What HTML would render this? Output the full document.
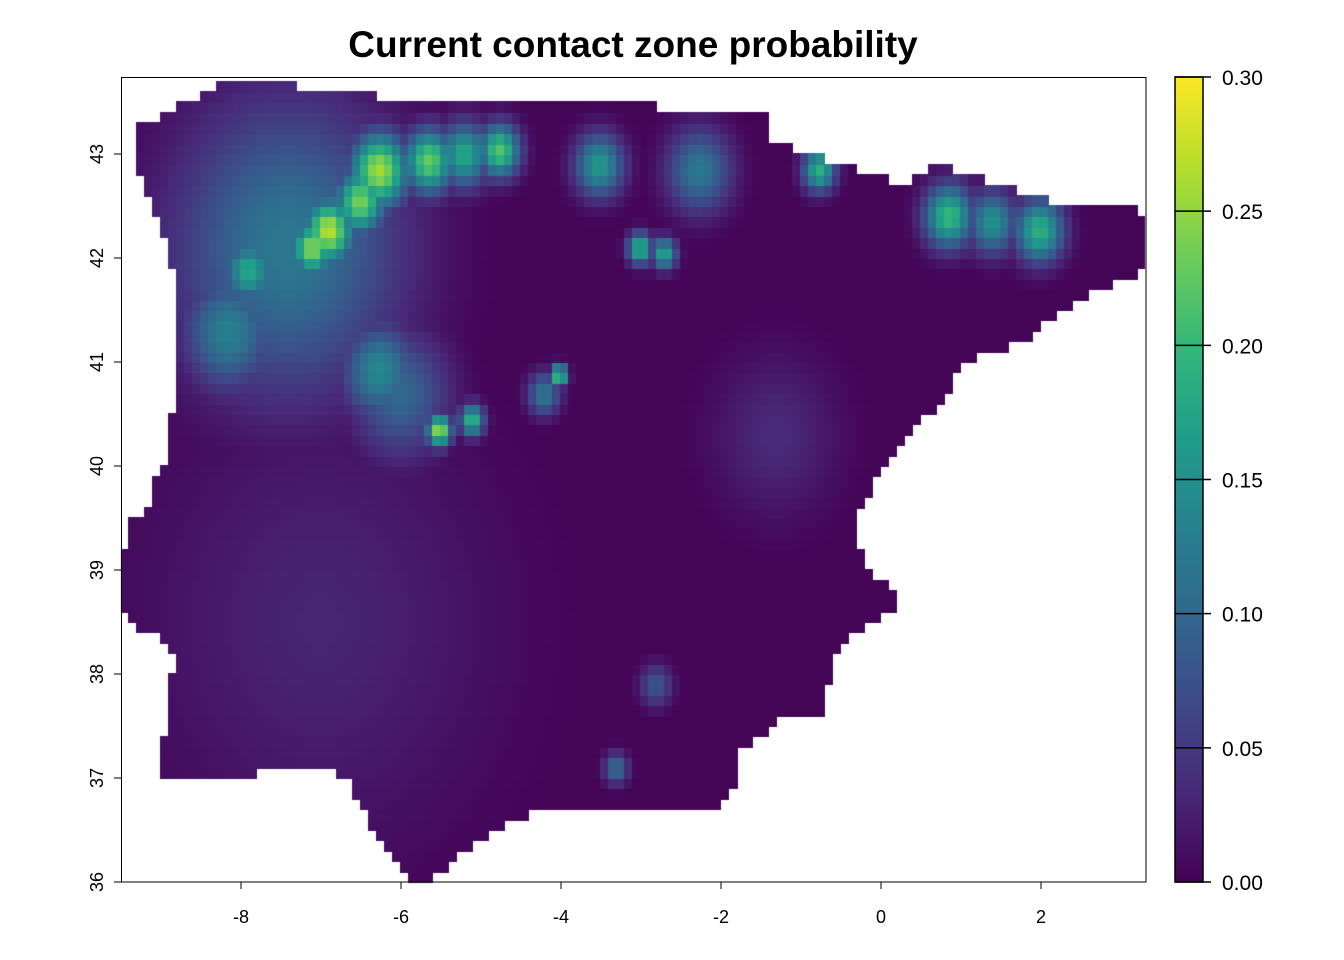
<!DOCTYPE html>
<html><head><meta charset="utf-8"><style>
html,body{margin:0;padding:0;background:#fff;}
#wrap{position:relative;width:1344px;height:960px;font-family:"Liberation Sans",sans-serif;}
canvas{position:absolute;left:0;top:0;}
svg{position:absolute;left:0;top:0;}
</style></head><body>
<div id="wrap">
<canvas id="cv" width="1344" height="960"></canvas>
<svg id="sv" width="1344" height="960"></svg>
</div>
<script>
// ---- data ----
const outlineLon=[-9.26,-9.01,-8.33,-8.08,-7.33,-7.26,-6.26,-5.26,-4.14,-3.51,-2.51,-1.39,-1.39,-1.01,-0.26,0.24,0.74,1.49,1.99,2.74,3.24,3.31,3.24,2.74,2.24,1.86,1.36,0.99,0.80,0.49,0.24,-0.01,-0.26,-0.26,-0.07,0.24,0.24,-0.26,-0.51,-0.64,-0.70,-1.26,-1.76,-1.83,-2.14,-3.01,-4.01,-4.45,-4.89,-5.26,-5.64,-5.83,-6.08,-6.33,-6.51,-6.70,-6.95,-7.51,-8.01,-8.70,-8.99,-8.95,-8.89,-8.83,-8.89,-9.20,-9.49,-9.49,-9.41,-9.14,-9.08,-8.95,-8.89,-8.76,-8.76,-8.86,-9.01,-9.14,-9.26,-9.26];
const outlineLat=[43.25,43.35,43.62,43.74,43.74,43.57,43.55,43.52,43.49,43.52,43.42,43.35,43.13,43.04,42.85,42.70,42.89,42.70,42.56,42.49,42.46,42.17,41.84,41.69,41.50,41.21,41.10,40.97,40.63,40.44,40.15,39.91,39.58,39.24,38.90,38.81,38.66,38.42,38.28,37.94,37.65,37.56,37.27,36.88,36.69,36.67,36.69,36.64,36.45,36.26,36.02,36.00,36.21,36.45,36.79,37.03,37.13,37.13,36.98,37.00,37.03,37.37,37.75,38.13,38.33,38.38,38.66,38.95,39.43,39.58,39.82,40.01,40.44,40.63,41.31,41.98,42.37,42.56,42.85,43.13];
const hotLon=[-7.4,-6.26,-6.89,-7.1,-6.5,-7.89,-5.64,-4.76,-5.2,-3.51,-2.26,-3.0,-2.7,-0.76,0.86,1.99,1.4,-5.51,-5.1,-4.01,-4.2,-6.26,-8.14,-2.8,-3.3,-6.0,-7.0,-1.3];
const hotLat=[42.1,42.85,42.27,42.1,42.55,41.88,42.94,43.04,43.0,42.9,42.85,42.1,42.05,42.85,42.41,42.27,42.35,40.35,40.45,40.88,40.7,40.92,41.3,37.9,37.1,40.7,38.5,40.3];
const hotVal=[0.12,0.26,0.27,0.25,0.24,0.18,0.23,0.22,0.18,0.16,0.12,0.2,0.18,0.19,0.2,0.19,0.15,0.26,0.2,0.24,0.12,0.14,0.13,0.08,0.11,0.1,0.03,0.035];
const hotRad=[1.4,0.35,0.3,0.25,0.3,0.3,0.3,0.25,0.3,0.3,0.4,0.15,0.15,0.2,0.3,0.3,0.3,0.15,0.15,0.1,0.2,0.45,0.55,0.2,0.15,0.6,2.2,0.8];
const xTicks=[-8,-6,-4,-2,0,2];
const yTicks=[36,37,38,39,40,41,42,43];
const cbTicks=[0,0.05,0.1,0.15,0.2,0.25,0.3];
// ---- scales ----
const X=l=>121+(l+9.5)*80, Y=t=>882-(t-36)*104;
const CB=v=>882-v/0.3*805;
const vir=[[68,1,84],[72,40,120],[62,74,137],[49,104,142],[38,130,142],[31,158,137],[53,183,121],[109,205,89],[180,222,44],[253,231,37]];
function col(v){let t=Math.max(0,Math.min(1,v/0.3))*9,i=Math.min(8,Math.floor(t)),f=t-i;
 const a=vir[i],b=vir[i+1];return `rgb(${a.map((c,k)=>Math.round(c+(b[k]-c)*f)).join(',')})`;}
function inside(lo,la){let c=false;for(let i=0,j=outlineLon.length-1;i<outlineLon.length;j=i++){
 const yi=outlineLat[i],yj=outlineLat[j],xi=outlineLon[i],xj=outlineLon[j];
 if((yi>la)!=(yj>la)&&lo<(xj-xi)*(la-yi)/(yj-yi)+xi)c=!c;}return c;}
const ctx=document.getElementById('cv').getContext('2d');
const step=0.1;
for(let lo=-9.5;lo<3.33;lo+=step){for(let la=36;la<43.74;la+=step){
 const cx=lo+step/2,cy=la+step/2; if(!inside(cx,cy))continue;
 let v=0.003;for(let k=0;k<hotLon.length;k++){const d2=((cx-hotLon[k])**2+(cy-hotLat[k])**2)/(hotRad[k]**2);v=Math.max(v,hotVal[k]*Math.exp(-d2));}
 ctx.fillStyle=col(v);const x0=X(lo),y0=Y(la+step);ctx.fillRect(Math.floor(x0),Math.floor(y0),Math.ceil(X(lo+step)-x0)+1,Math.ceil(Y(la)-y0)+1);}}
// colorbar
for(let y=77;y<882;y++){ctx.fillStyle=col((882-y)/805*0.3);ctx.fillRect(1175,y,28,1);}
const sv=document.getElementById('sv');const NS='http://www.w3.org/2000/svg';
function mk(tag,at,txt){const e=document.createElementNS(NS,tag);for(const k in at)e.setAttribute(k,at[k]);if(txt!=null)e.textContent=txt;sv.appendChild(e);return e;}
let e=mk('rect',{x:121.5,y:77.5,width:1024.5,height:804.5,fill:'none',stroke:'#000','stroke-width':1});

e=mk('rect',{x:1175,y:77,width:28,height:805,fill:'none',stroke:'#000','stroke-width':1.5});

e=mk('text',{x:633,y:57,'text-anchor':'middle','font-size':37,'font-weight':'bold'},'Current contact zone probability');

xTicks.forEach(t=>{const x=X(t);mk('line',{x1:x,x2:x,y1:882,y2:889,stroke:'#000'});
 e=mk('text',{x:x,y:923,'text-anchor':'middle','font-size':18},String(t));
 });
yTicks.forEach(t=>{const y=Y(t);mk('line',{x1:114,x2:121,y1:y,y2:y,stroke:'#000'});
 e=mk('text',{x:0,y:0,'text-anchor':'middle','font-size':18,transform:`translate(103,${y}) rotate(-90)`},String(t));
 });
cbTicks.forEach(t=>{const y=CB(t);mk('line',{x1:1175,x2:1211,y1:y,y2:y,stroke:'#000','stroke-width':1.5});
 e=mk('text',{x:1222,y:y+8,'font-size':21},t.toFixed(2));
 });
</script>
</body></html>
